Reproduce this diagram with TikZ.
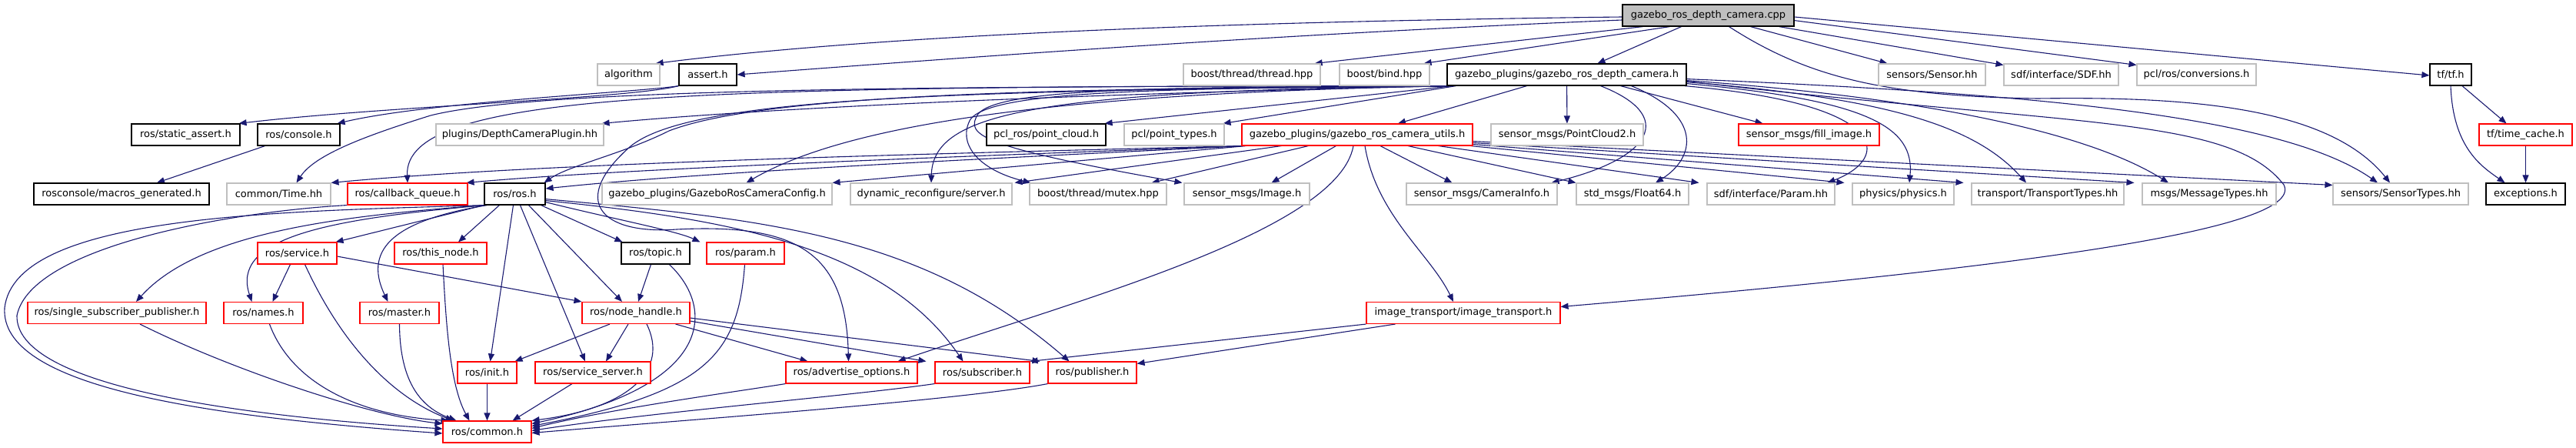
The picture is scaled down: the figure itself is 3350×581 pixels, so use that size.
\documentclass[tikz,border=0pt]{standalone}
\usepackage{fontspec}
\setmainfont{DejaVu Sans}
\usetikzlibrary{arrows.meta}
\pgfdeclarelayer{background}
\pgfsetlayers{background,main}
\definecolor{edgec}{HTML}{191970}
\definecolor{grayb}{HTML}{BFBFBF}
\definecolor{redb}{HTML}{FF0000}
\begin{document}
\begin{tikzpicture}[x=1pt,y=-1pt,
 box/.style={draw, rectangle, inner sep=0pt, minimum height=28pt, line width=1.1pt, fill=white, font=\fontsize{13}{15}\selectfont, text=black},
 gbox/.style={box, draw=grayb},
 rbox/.style={box, draw=redb},
 kbox/.style={box, draw=black, line width=1.2pt},
 rootbox/.style={kbox, fill=grayb},
 e/.style={draw=edgec, line width=1.1pt, -{Triangle[length=10pt,width=8pt]}}
]
\useasboundingbox (0,0) rectangle (3350,581);
% row 1
\node[rootbox, minimum width=223pt] (root) at (2221.5,20) {gazebo\_ros\_depth\_camera.cpp};
% row 2
\node[gbox, minimum width=81pt] (algo) at (817.5,97) {algorithm};
\node[kbox, minimum width=75pt] (assert) at (920.5,97) {assert.h};
\node[gbox, minimum width=178pt] (thread) at (1628,97) {boost/thread/thread.hpp};
\node[gbox, minimum width=117pt] (bind) at (1800.5,97) {boost/bind.hpp};
\node[kbox, minimum width=311pt] (dch) at (2037.5,97) {gazebo\_plugins/gazebo\_ros\_depth\_camera.h};
\node[gbox, minimum width=139pt] (sensor) at (2512.5,97) {sensors/Sensor.hh};
\node[gbox, minimum width=149pt] (sdf) at (2680.5,97) {sdf/interface/SDF.hh};
\node[gbox, minimum width=155pt] (conv) at (2856.5,97) {pcl/ros/conversions.h};
\node[kbox, minimum width=54pt] (tf) at (3187,97) {tf/tf.h};
% row 3
\node[kbox, minimum width=141pt] (sassert) at (241.5,175) {ros/static\_assert.h};
\node[kbox, minimum width=107pt] (console) at (388.5,175) {ros/console.h};
\node[gbox, minimum width=218pt] (dcp) at (676,175) {plugins/DepthCameraPlugin.hh};
\node[kbox, minimum width=155pt] (pclros) at (1360.5,175) {pcl\_ros/point\_cloud.h};
\node[gbox, minimum width=130pt] (pcltypes) at (1527,175) {pcl/point\_types.h};
\node[rbox, minimum width=300pt] (utils) at (1765,175) {gazebo\_plugins/gazebo\_ros\_camera\_utils.h};
\node[gbox, minimum width=198pt] (pc2) at (2038,175) {sensor\_msgs/PointCloud2.h};
\node[rbox, minimum width=183pt] (fill) at (2352.5,175) {sensor\_msgs/fill\_image.h};
\node[rbox, minimum width=121pt] (tcache) at (3284.5,175) {tf/time\_cache.h};
% row 4
\node[kbox, minimum width=228pt] (macros) at (158,252) {rosconsole/macros\_generated.h};
\node[gbox, minimum width=135pt] (time) at (362.5,252) {common/Time.hh};
\node[rbox, minimum width=156pt] (cbq) at (530,252) {ros/callback\_queue.h};
\node[kbox, minimum width=79pt] (rosh) at (669.5,252) {ros/ros.h};
\node[gbox, minimum width=299pt] (cfg) at (932.5,252) {gazebo\_plugins/GazeboRosCameraConfig.h};
\node[gbox, minimum width=210pt] (dyn) at (1211,252) {dynamic\_reconfigure/server.h};
\node[gbox, minimum width=178pt] (mutex) at (1428,252) {boost/thread/mutex.hpp};
\node[gbox, minimum width=163pt] (image) at (1621.5,252) {sensor\_msgs/Image.h};
\node[gbox, minimum width=196pt] (caminfo) at (1927,252) {sensor\_msgs/CameraInfo.h};
\node[gbox, minimum width=146pt] (float) at (2123,252) {std\_msgs/Float64.h};
\node[gbox, minimum width=166pt] (paramhh) at (2303,252) {sdf/interface/Param.hh};
\node[gbox, minimum width=132pt] (physics) at (2475,252) {physics/physics.h};
\node[gbox, minimum width=198pt] (transport) at (2663,252) {transport/TransportTypes.hh};
\node[gbox, minimum width=174pt] (msgs) at (2873,252) {msgs/MessageTypes.hh};
\node[gbox, minimum width=176pt] (stypes) at (3122,252) {sensors/SensorTypes.hh};
\node[kbox, minimum width=103pt] (exc) at (3284.5,252) {exceptions.h};
% row 5
\node[rbox, minimum width=103pt] (service) at (386.5,329) {ros/service.h};
\node[rbox, minimum width=120pt] (thisnode) at (573,329) {ros/this\_node.h};
\node[kbox, minimum width=89pt] (topic) at (852.5,329) {ros/topic.h};
\node[rbox, minimum width=101pt] (rparam) at (969.5,329) {ros/param.h};
% row 6
\node[rbox, minimum width=232pt] (ssp) at (152,406.5) {ros/single\_subscriber\_publisher.h};
\node[rbox, minimum width=103pt] (names) at (342.5,406.5) {ros/names.h};
\node[rbox, minimum width=103pt] (master) at (519.5,406.5) {ros/master.h};
\node[rbox, minimum width=140pt] (nh) at (827,406.5) {ros/node\_handle.h};
\node[rbox, minimum width=252pt] (itr) at (1903,406.5) {image\_transport/image\_transport.h};
% row 7
\node[rbox, minimum width=77pt] (init) at (633.5,484) {ros/init.h};
\node[rbox, minimum width=150pt] (ssrv) at (771,484) {ros/service\_server.h};
\node[rbox, minimum width=171pt] (adv) at (1107.5,484) {ros/advertise\_options.h};
\node[rbox, minimum width=123pt] (sub) at (1277.5,484) {ros/subscriber.h};
\node[rbox, minimum width=115pt] (pub) at (1420.5,484) {ros/publisher.h};
% row 8
\node[rbox, minimum width=115pt] (common) at (633.5,561) {ros/common.h};

\begin{pgfonlayer}{background}
% ---- edges from root
\draw[e] ([yshift=-2pt]root.west) .. controls (1600,28) and (1150,45) .. ([xshift=-6pt]algo.north east);
\draw[e] ([yshift=-6pt]root.west) .. controls (1650,45) and (1250,75) .. (assert.east);
\draw[e] ([xshift=-85pt]root.south) -- ([xshift=-8pt]thread.north east);
\draw[e] ([xshift=-50pt]root.south) -- ([xshift=-8pt]bind.north east);
\draw[e] ([xshift=-35pt]root.south) -- ([xshift=40pt]dch.north);
\draw[e] ([xshift=27pt]root.south) .. controls (2350,100) and (2450,125) .. (2650,128) .. controls (2850,125) and (3030,140) .. ([xshift=-14pt]stypes.north);
\draw[e] ([xshift=55pt]root.south) -- ([xshift=12pt]sensor.north west);
\draw[e] ([xshift=-20pt]root.south east) -- ([yshift=-2pt]sdf.north west);
\draw[e] ([yshift=8pt]root.south east) -- ([yshift=-2pt]conv.north west);
\draw[e] ([yshift=-2pt]root.east) -- ([yshift=-1pt]tf.west);
% tf
\draw[e] ([xshift=15pt]tf.south) -- ([xshift=-25pt]tcache.north);
\draw[e] (tf.south) .. controls (3190,190) and (3225,215) .. ([xshift=-27pt]exc.north);
\draw[e] (tcache) -- (exc);
% assert, console
\draw[e] (assert.south west) .. controls (820,128) and (500,138) .. ([xshift=-2pt]sassert.north east);
\draw[e] (assert.south west) .. controls (830,120) and (560,132) .. ([xshift=-4pt]console.north east);
\draw[e] ([xshift=-44pt]console.south) -- ([xshift=46pt]macros.north);
% depth_camera.h
\draw[e] ([xshift=4pt]dch.south west) .. controls (1400,115) and (1000,120) .. (870,170) .. controls (810,200) and (740,215) .. ([xshift=-2pt]rosh.north east);
\draw[e] ([xshift=2pt]dch.south west) .. controls (900,112) and (525,118) .. (cbq.north);
\draw[e] (dch.south west) .. controls (1200,112) and (700,115) .. (560,150) .. controls (480,175) and (410,200) .. ([xshift=23pt]time.north);
\draw[e] ([xshift=6pt]dch.south west) .. controls (1400,122) and (1000,140) .. ([xshift=-3pt]dcp.north east);
\draw[e] ([xshift=8pt]dch.south west) -- ([xshift=-2pt]pclros.north east);
\draw[e] ([xshift=12pt]dch.south west) -- ([xshift=-2pt]pcltypes.north east);
\draw[e] ([xshift=-52pt]dch.south) -- ([xshift=53pt]utils.north);
\draw[e] (dch) -- (pc2);
\draw[e] ([xshift=70pt]dch.south) -- ([xshift=-60pt]fill.north);
\draw[e] ([xshift=4pt]dch.south west) .. controls (1450,120) and (1120,150) .. ([xshift=38pt]cfg.north);
\draw[e] ([xshift=4pt]dch.south west) .. controls (1330,118) and (1213,150) .. (dyn.north);
\draw[e] ([xshift=4pt]dch.south west) .. controls (1500,115) and (1290,118) .. (1262,155) .. controls (1245,185) and (1270,220) .. ([xshift=2pt]mutex.north west);
\draw[e] ([xshift=4pt]dch.south west) .. controls (1500,113) and (1300,115) .. (1272,148) .. controls (1255,175) and (1270,190) .. ([xshift=-2pt]image.north west);
\draw[e] ([xshift=44pt]dch.south) .. controls (2180,150) and (2150,205) .. ([xshift=-8pt]caminfo.north east);
\draw[e] ([xshift=84pt]dch.south) .. controls (2215,150) and (2205,205) .. ([xshift=30pt]float.north);
\draw[e] ([xshift=-3pt]dch.south east) .. controls (2460,135) and (2460,205) .. ([xshift=-10pt]paramhh.north east);
\draw[e] ([yshift=3pt]dch.south east) .. controls (2430,130) and (2490,165) .. ([xshift=8pt]physics.north);
\draw[e] ([yshift=5pt]dch.south east) .. controls (2460,128) and (2570,165) .. ([xshift=-28pt]transport.north);
\draw[e] ([yshift=7pt]dch.south east) .. controls (2520,128) and (2720,175) .. ([xshift=-53pt]msgs.north);
\draw[e] ([yshift=9pt]dch.south east) .. controls (2600,120) and (2960,145) .. ([xshift=-30pt]stypes.north);
\draw[e] ([yshift=6pt]dch.south east) .. controls (2700,165) and (2900,150) .. (2970,240) .. controls (3000,300) and (2600,350) .. ([yshift=8pt]itr.east);
\draw[e] ([xshift=4pt]dch.south west) .. controls (1250,118) and (900,125) .. (820,190) .. controls (740,260) and (780,305) .. (880,298) .. controls (1040,290) and (1100,330) .. ([xshift=-4pt]adv.north);
% camera_utils.h
\draw[e] (utils.south west) .. controls (1200,200) and (700,212) .. (time.north east);
\draw[e] ([xshift=2pt]utils.south west) .. controls (1200,205) and (800,220) .. ([xshift=-2pt]cbq.north east);
\draw[e] ([xshift=4pt]utils.south west) .. controls (1200,210) and (900,225) .. ([yshift=7pt]rosh.east);
\draw[e] ([xshift=6pt]utils.south west) -- (cfg.north east);
\draw[e] ([xshift=52pt]utils.south west) -- ([xshift=3pt]dyn.north east);
\draw[e] ([xshift=87pt]utils.south west) -- ([xshift=-20pt]mutex.north east);
\draw[e] ([xshift=123pt]utils.south west) -- ([xshift=32pt]image.north);
\draw[e] ([xshift=10pt]utils.south) .. controls (1790,280) and (1860,330) .. ([xshift=-13pt]itr.north);
\draw[e] ([xshift=-5pt]utils.south) .. controls (1740,300) and (1400,390) .. ([xshift=-26pt]adv.north east);
\draw[e] ([xshift=30pt]utils.south) -- ([xshift=60pt]caminfo.north west);
\draw[e] ([xshift=66pt]utils.south) -- (float.north west);
\draw[e] ([xshift=-45pt]utils.south east) -- ([xshift=-10pt]paramhh.north west);
\draw[e] ([xshift=-3pt]utils.south east) -- ([xshift=-10pt]physics.north west);
\draw[e] ([yshift=2pt]utils.south east) -- ([xshift=-10pt]transport.north west);
\draw[e] ([yshift=4pt]utils.south east) -- ([xshift=-10pt]msgs.north west);
\draw[e] ([yshift=6pt]utils.south east) -- ([yshift=-3pt]stypes.north west);
% ros.h
\draw[e] (rosh.south west) -- ([xshift=-2pt]service.north east);
\draw[e] ([xshift=20pt]rosh.south west) -- ([xshift=23pt]thisnode.north);
\draw[e] ([xshift=2pt]rosh.south west) .. controls (420,285) and (300,310) .. ([xshift=-15pt]names.north);
\draw[e] ([xshift=4pt]rosh.south west) .. controls (520,285) and (470,320) .. ([xshift=-15pt]master.north);
\draw[e] ([xshift=1pt]rosh.south west) .. controls (450,280) and (260,300) .. ([xshift=25pt]ssp.north);
\draw[e] ([xshift=-2pt]rosh.south) -- ([xshift=4pt]init.north);
\draw[e] ([xshift=7pt]rosh.south) -- ([xshift=-10pt]ssrv.north);
\draw[e] ([xshift=18pt]rosh.south) -- ([xshift=-18pt]nh.north);
\draw[e] ([xshift=-6pt]rosh.south east) -- ([xshift=2pt]topic.north west);
\draw[e] ([yshift=4pt]rosh.south east) .. controls (800,285) and (880,300) .. ([xshift=-8pt]rparam.north west);
\draw[e] ([yshift=6pt]rosh.south east) .. controls (950,285) and (1150,320) .. ([xshift=-25pt]sub.north);
\draw[e] ([yshift=8pt]rosh.south east) .. controls (1000,285) and (1200,305) .. ([xshift=-30pt]pub.north);
\draw[e] (rosh.south west) .. controls (350,275) and (20,280) .. (6,400) .. controls (0,500) and (250,540) .. ([yshift=-2pt]common.west);
\draw[e] (cbq.south west) .. controls (300,275) and (40,320) .. (22,410) .. controls (20,500) and (300,540) .. ([yshift=4pt]common.west);
% service, this_node, topic, param
\draw[e] ([xshift=-9pt]service.south) -- ([xshift=12pt]names.north);
\draw[e] ([yshift=-4pt]service.east) -- (nh.north west);
\draw[e] ([xshift=10pt]service.south) .. controls (450,460) and (520,520) .. ([xshift=14pt]common.north west);
\draw[e] ([xshift=3pt]thisnode.south) .. controls (580,420) and (585,500) .. ([xshift=35pt]common.north west);
\draw[e] ([xshift=-6pt]topic.south) -- ([xshift=3pt]nh.north);
\draw[e] ([xshift=18pt]topic.south) .. controls (930,400) and (930,500) .. ([yshift=-4pt]common.north east);
\draw[e] ([xshift=-1pt]rparam.south) .. controls (960,460) and (920,510) .. ([yshift=-7pt]common.north east);
% node_handle
\draw[e] ([xshift=-34pt]nh.south) -- ([xshift=-3pt]init.north east);
\draw[e] ([xshift=-10pt]nh.south) -- ([xshift=17pt]ssrv.north);
\draw[e] ([xshift=-19pt]nh.south east) -- ([xshift=-57pt]adv.north);
\draw[e] ([yshift=4pt]nh.south east) -- ([xshift=-11pt]sub.north west);
\draw[e] ([yshift=8pt]nh.south east) -- ([xshift=-10pt]pub.north west);
\draw[e] ([xshift=14pt]nh.south) .. controls (870,480) and (820,530) .. (common.north east);
% to common
\draw[e] ([xshift=30pt]ssp.south) .. controls (300,480) and (480,540) .. ([yshift=-4pt]common.north west);
\draw[e] ([xshift=8pt]names.south) .. controls (380,500) and (470,540) .. ([xshift=8pt]common.north west);
\draw[e] (master.south) .. controls (520,500) and (550,530) .. ([xshift=18pt]common.north west);
\draw[e] (init) -- (common);
\draw[e] ([xshift=-27pt]ssrv.south) -- ([xshift=-25pt]common.north east);
\draw[e] (adv.south west) .. controls (950,510) and (800,530) .. ([yshift=-10pt]common.north east);
\draw[e] (sub.south west) .. controls (1100,515) and (850,535) .. ([yshift=-13pt]common.north east);
\draw[e] (pub.south west) .. controls (1250,520) and (900,545) .. ([yshift=-16pt]common.north east);
% image_transport
\draw[e] (itr.south west) -- (sub.north east);
\draw[e] ([xshift=38pt]itr.south west) -- ([yshift=-3pt]pub.north east);
\end{pgfonlayer}
\end{tikzpicture}
\end{document}
